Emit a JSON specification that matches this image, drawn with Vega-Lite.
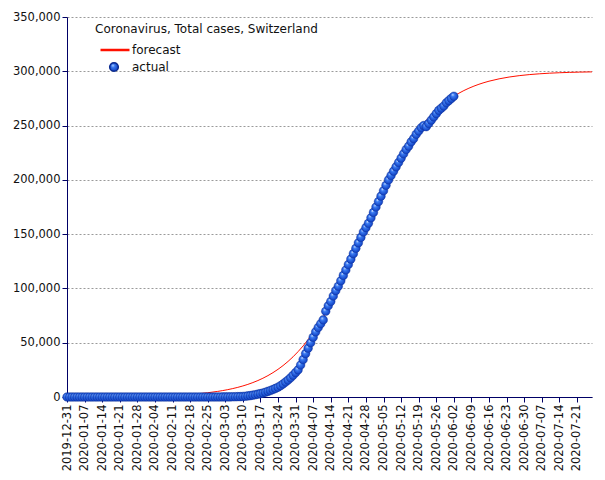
{
  "$schema": "https://vega.github.io/schema/vega-lite/v6.json",
  "autosize": {"type": "none"},
  "padding": {"left": 67, "top": 17, "right": 12, "bottom": 83},
  "width": 525,
  "height": 380,
  "background": "white",
  "config": {
    "view": {"stroke": null},
    "font": "DejaVu Sans",
    "axis": {
      "domainColor": "#000066",
      "tickColor": "#000066",
      "tickSize": 5,
      "labelColor": "#111111",
      "labelFontSize": 11.5,
      "labelPadding": 2,
      "title": null
    },
    "legend": {"padding": 0}
  },
  "datasets": {
    "forecast": [
      {"date": "2019-12-31", "cases": 81},
      {"date": "2020-01-04", "cases": 107},
      {"date": "2020-01-08", "cases": 141},
      {"date": "2020-01-12", "cases": 187},
      {"date": "2020-01-16", "cases": 246},
      {"date": "2020-01-20", "cases": 325},
      {"date": "2020-01-24", "cases": 430},
      {"date": "2020-01-28", "cases": 567},
      {"date": "2020-02-01", "cases": 749},
      {"date": "2020-02-05", "cases": 988},
      {"date": "2020-02-09", "cases": 1303},
      {"date": "2020-02-13", "cases": 1718},
      {"date": "2020-02-17", "cases": 2264},
      {"date": "2020-02-21", "cases": 2982},
      {"date": "2020-02-25", "cases": 3927},
      {"date": "2020-02-29", "cases": 5164},
      {"date": "2020-03-02", "cases": 5917},
      {"date": "2020-03-04", "cases": 6781},
      {"date": "2020-03-06", "cases": 7766},
      {"date": "2020-03-08", "cases": 8889},
      {"date": "2020-03-10", "cases": 10169},
      {"date": "2020-03-12", "cases": 11628},
      {"date": "2020-03-14", "cases": 13286},
      {"date": "2020-03-16", "cases": 15167},
      {"date": "2020-03-18", "cases": 17291},
      {"date": "2020-03-20", "cases": 19711},
      {"date": "2020-03-22", "cases": 22422},
      {"date": "2020-03-24", "cases": 25488},
      {"date": "2020-03-26", "cases": 28916},
      {"date": "2020-03-28", "cases": 32759},
      {"date": "2020-03-30", "cases": 37042},
      {"date": "2020-04-01", "cases": 41794},
      {"date": "2020-04-03", "cases": 47051},
      {"date": "2020-04-05", "cases": 52835},
      {"date": "2020-04-07", "cases": 59161},
      {"date": "2020-04-09", "cases": 66036},
      {"date": "2020-04-11", "cases": 73475},
      {"date": "2020-04-13", "cases": 81455},
      {"date": "2020-04-15", "cases": 89955},
      {"date": "2020-04-17", "cases": 98945},
      {"date": "2020-04-19", "cases": 108382},
      {"date": "2020-04-21", "cases": 118157},
      {"date": "2020-04-23", "cases": 128260},
      {"date": "2020-04-25", "cases": 138568},
      {"date": "2020-04-27", "cases": 148957},
      {"date": "2020-04-29", "cases": 159362},
      {"date": "2020-05-01", "cases": 169683},
      {"date": "2020-05-03", "cases": 179820},
      {"date": "2020-05-05", "cases": 189680},
      {"date": "2020-05-07", "cases": 199190},
      {"date": "2020-05-09", "cases": 208278},
      {"date": "2020-05-11", "cases": 216902},
      {"date": "2020-05-13", "cases": 224985},
      {"date": "2020-05-15", "cases": 232504},
      {"date": "2020-05-17", "cases": 239489},
      {"date": "2020-05-19", "cases": 245942},
      {"date": "2020-05-21", "cases": 251826},
      {"date": "2020-05-23", "cases": 257202},
      {"date": "2020-05-25", "cases": 262035},
      {"date": "2020-05-27", "cases": 266405},
      {"date": "2020-05-29", "cases": 270344},
      {"date": "2020-05-31", "cases": 273847},
      {"date": "2020-06-02", "cases": 276982},
      {"date": "2020-06-04", "cases": 279776},
      {"date": "2020-06-06", "cases": 282247},
      {"date": "2020-06-08", "cases": 284416},
      {"date": "2020-06-12", "cases": 288046},
      {"date": "2020-06-16", "cases": 290867},
      {"date": "2020-06-20", "cases": 293026},
      {"date": "2020-06-24", "cases": 294695},
      {"date": "2020-06-28", "cases": 295966},
      {"date": "2020-07-02", "cases": 296935},
      {"date": "2020-07-06", "cases": 297672},
      {"date": "2020-07-10", "cases": 298234},
      {"date": "2020-07-14", "cases": 298662},
      {"date": "2020-07-18", "cases": 298984},
      {"date": "2020-07-22", "cases": 299231},
      {"date": "2020-07-27", "cases": 299455}
    ],
    "actual": [
      {"date": "2019-12-31", "cases": 0},
      {"date": "2020-01-01", "cases": 0},
      {"date": "2020-01-02", "cases": 0},
      {"date": "2020-01-03", "cases": 0},
      {"date": "2020-01-04", "cases": 0},
      {"date": "2020-01-05", "cases": 0},
      {"date": "2020-01-06", "cases": 0},
      {"date": "2020-01-07", "cases": 0},
      {"date": "2020-01-08", "cases": 0},
      {"date": "2020-01-09", "cases": 0},
      {"date": "2020-01-10", "cases": 0},
      {"date": "2020-01-11", "cases": 0},
      {"date": "2020-01-12", "cases": 0},
      {"date": "2020-01-13", "cases": 0},
      {"date": "2020-01-14", "cases": 0},
      {"date": "2020-01-15", "cases": 0},
      {"date": "2020-01-16", "cases": 0},
      {"date": "2020-01-17", "cases": 0},
      {"date": "2020-01-18", "cases": 0},
      {"date": "2020-01-19", "cases": 0},
      {"date": "2020-01-20", "cases": 0},
      {"date": "2020-01-21", "cases": 0},
      {"date": "2020-01-22", "cases": 0},
      {"date": "2020-01-23", "cases": 0},
      {"date": "2020-01-24", "cases": 0},
      {"date": "2020-01-25", "cases": 0},
      {"date": "2020-01-26", "cases": 0},
      {"date": "2020-01-27", "cases": 0},
      {"date": "2020-01-28", "cases": 0},
      {"date": "2020-01-29", "cases": 0},
      {"date": "2020-01-30", "cases": 0},
      {"date": "2020-01-31", "cases": 0},
      {"date": "2020-02-01", "cases": 0},
      {"date": "2020-02-02", "cases": 0},
      {"date": "2020-02-03", "cases": 0},
      {"date": "2020-02-04", "cases": 0},
      {"date": "2020-02-05", "cases": 0},
      {"date": "2020-02-06", "cases": 0},
      {"date": "2020-02-07", "cases": 0},
      {"date": "2020-02-08", "cases": 0},
      {"date": "2020-02-09", "cases": 0},
      {"date": "2020-02-10", "cases": 0},
      {"date": "2020-02-11", "cases": 0},
      {"date": "2020-02-12", "cases": 0},
      {"date": "2020-02-13", "cases": 0},
      {"date": "2020-02-14", "cases": 0},
      {"date": "2020-02-15", "cases": 0},
      {"date": "2020-02-16", "cases": 0},
      {"date": "2020-02-17", "cases": 0},
      {"date": "2020-02-18", "cases": 0},
      {"date": "2020-02-19", "cases": 0},
      {"date": "2020-02-20", "cases": 0},
      {"date": "2020-02-21", "cases": 0},
      {"date": "2020-02-22", "cases": 0},
      {"date": "2020-02-23", "cases": 0},
      {"date": "2020-02-24", "cases": 0},
      {"date": "2020-02-25", "cases": 1},
      {"date": "2020-02-26", "cases": 1},
      {"date": "2020-02-27", "cases": 8},
      {"date": "2020-02-28", "cases": 15},
      {"date": "2020-02-29", "cases": 18},
      {"date": "2020-03-01", "cases": 27},
      {"date": "2020-03-02", "cases": 42},
      {"date": "2020-03-03", "cases": 56},
      {"date": "2020-03-04", "cases": 90},
      {"date": "2020-03-05", "cases": 114},
      {"date": "2020-03-06", "cases": 214},
      {"date": "2020-03-07", "cases": 268},
      {"date": "2020-03-08", "cases": 337},
      {"date": "2020-03-09", "cases": 374},
      {"date": "2020-03-10", "cases": 500},
      {"date": "2020-03-11", "cases": 700},
      {"date": "2020-03-12", "cases": 1000},
      {"date": "2020-03-13", "cases": 1300},
      {"date": "2020-03-14", "cases": 1700},
      {"date": "2020-03-15", "cases": 2100},
      {"date": "2020-03-16", "cases": 2600},
      {"date": "2020-03-17", "cases": 3100},
      {"date": "2020-03-18", "cases": 3700},
      {"date": "2020-03-19", "cases": 4400},
      {"date": "2020-03-20", "cases": 5200},
      {"date": "2020-03-21", "cases": 6000},
      {"date": "2020-03-22", "cases": 6900},
      {"date": "2020-03-23", "cases": 7900},
      {"date": "2020-03-24", "cases": 9000},
      {"date": "2020-03-25", "cases": 10400},
      {"date": "2020-03-26", "cases": 12000},
      {"date": "2020-03-27", "cases": 13800},
      {"date": "2020-03-28", "cases": 15600},
      {"date": "2020-03-29", "cases": 17700},
      {"date": "2020-03-30", "cases": 20000},
      {"date": "2020-03-31", "cases": 22500},
      {"date": "2020-04-01", "cases": 25000},
      {"date": "2020-04-02", "cases": 29500},
      {"date": "2020-04-03", "cases": 34500},
      {"date": "2020-04-04", "cases": 40000},
      {"date": "2020-04-05", "cases": 45000},
      {"date": "2020-04-06", "cases": 50000},
      {"date": "2020-04-07", "cases": 55000},
      {"date": "2020-04-08", "cases": 60000},
      {"date": "2020-04-09", "cases": 64000},
      {"date": "2020-04-10", "cases": 67500},
      {"date": "2020-04-11", "cases": 71000},
      {"date": "2020-04-12", "cases": 79000},
      {"date": "2020-04-13", "cases": 84000},
      {"date": "2020-04-14", "cases": 88000},
      {"date": "2020-04-15", "cases": 93000},
      {"date": "2020-04-16", "cases": 98000},
      {"date": "2020-04-17", "cases": 102000},
      {"date": "2020-04-18", "cases": 107000},
      {"date": "2020-04-19", "cases": 112000},
      {"date": "2020-04-20", "cases": 117000},
      {"date": "2020-04-21", "cases": 122000},
      {"date": "2020-04-22", "cases": 127000},
      {"date": "2020-04-23", "cases": 132000},
      {"date": "2020-04-24", "cases": 137000},
      {"date": "2020-04-25", "cases": 142000},
      {"date": "2020-04-26", "cases": 147000},
      {"date": "2020-04-27", "cases": 152000},
      {"date": "2020-04-28", "cases": 156000},
      {"date": "2020-04-29", "cases": 160000},
      {"date": "2020-04-30", "cases": 165000},
      {"date": "2020-05-01", "cases": 170000},
      {"date": "2020-05-02", "cases": 175000},
      {"date": "2020-05-03", "cases": 180000},
      {"date": "2020-05-04", "cases": 185000},
      {"date": "2020-05-05", "cases": 190000},
      {"date": "2020-05-06", "cases": 195000},
      {"date": "2020-05-07", "cases": 200000},
      {"date": "2020-05-08", "cases": 204000},
      {"date": "2020-05-09", "cases": 208000},
      {"date": "2020-05-10", "cases": 212000},
      {"date": "2020-05-11", "cases": 216000},
      {"date": "2020-05-12", "cases": 220000},
      {"date": "2020-05-13", "cases": 224000},
      {"date": "2020-05-14", "cases": 228000},
      {"date": "2020-05-15", "cases": 231000},
      {"date": "2020-05-16", "cases": 235000},
      {"date": "2020-05-17", "cases": 238000},
      {"date": "2020-05-18", "cases": 242000},
      {"date": "2020-05-19", "cases": 245000},
      {"date": "2020-05-20", "cases": 248000},
      {"date": "2020-05-21", "cases": 250000},
      {"date": "2020-05-22", "cases": 249000},
      {"date": "2020-05-23", "cases": 252000},
      {"date": "2020-05-24", "cases": 255000},
      {"date": "2020-05-25", "cases": 258000},
      {"date": "2020-05-26", "cases": 261000},
      {"date": "2020-05-27", "cases": 264000},
      {"date": "2020-05-28", "cases": 266000},
      {"date": "2020-05-29", "cases": 268000},
      {"date": "2020-05-30", "cases": 271000},
      {"date": "2020-05-31", "cases": 273000},
      {"date": "2020-06-01", "cases": 275000},
      {"date": "2020-06-02", "cases": 277000}
    ]
  },
  "encoding": {
    "x": {
      "field": "date",
      "type": "temporal",
      "scale": {
        "type": "utc",
        "domain": [
          {"year": 2019, "month": 12, "date": 31, "utc": true},
          {"year": 2020, "month": 7, "date": 27, "utc": true}
        ]
      },
      "axis": {
        "grid": false,
        "labelExpr": "utcFormat(datum.value, '%Y-%m-%d')",
        "labelAngle": 270,
        "labelOverlap": false,
        "values": [
          {"year": 2019, "month": 12, "date": 31, "utc": true},
          {"year": 2020, "month": 1, "date": 7, "utc": true},
          {"year": 2020, "month": 1, "date": 14, "utc": true},
          {"year": 2020, "month": 1, "date": 21, "utc": true},
          {"year": 2020, "month": 1, "date": 28, "utc": true},
          {"year": 2020, "month": 2, "date": 4, "utc": true},
          {"year": 2020, "month": 2, "date": 11, "utc": true},
          {"year": 2020, "month": 2, "date": 18, "utc": true},
          {"year": 2020, "month": 2, "date": 25, "utc": true},
          {"year": 2020, "month": 3, "date": 3, "utc": true},
          {"year": 2020, "month": 3, "date": 10, "utc": true},
          {"year": 2020, "month": 3, "date": 17, "utc": true},
          {"year": 2020, "month": 3, "date": 24, "utc": true},
          {"year": 2020, "month": 3, "date": 31, "utc": true},
          {"year": 2020, "month": 4, "date": 7, "utc": true},
          {"year": 2020, "month": 4, "date": 14, "utc": true},
          {"year": 2020, "month": 4, "date": 21, "utc": true},
          {"year": 2020, "month": 4, "date": 28, "utc": true},
          {"year": 2020, "month": 5, "date": 5, "utc": true},
          {"year": 2020, "month": 5, "date": 12, "utc": true},
          {"year": 2020, "month": 5, "date": 19, "utc": true},
          {"year": 2020, "month": 5, "date": 26, "utc": true},
          {"year": 2020, "month": 6, "date": 2, "utc": true},
          {"year": 2020, "month": 6, "date": 9, "utc": true},
          {"year": 2020, "month": 6, "date": 16, "utc": true},
          {"year": 2020, "month": 6, "date": 23, "utc": true},
          {"year": 2020, "month": 6, "date": 30, "utc": true},
          {"year": 2020, "month": 7, "date": 7, "utc": true},
          {"year": 2020, "month": 7, "date": 14, "utc": true},
          {"year": 2020, "month": 7, "date": 21, "utc": true}
        ]
      }
    },
    "y": {
      "field": "cases",
      "type": "quantitative",
      "scale": {"domain": [0, 350000], "nice": false},
      "axis": {
        "values": [0, 50000, 100000, 150000, 200000, 250000, 300000, 350000],
        "labelExpr": "format(datum.value, ',')",
        "grid": true,
        "gridColor": "#9a9a9a",
        "gridDash": [2, 2],
        "gridWidth": 1
      }
    }
  },
  "layer": [
    {
      "data": {"name": "forecast"},
      "mark": {"type": "line", "strokeWidth": 1, "interpolate": "monotone"},
      "encoding": {
        "color": {
          "datum": "forecast",
          "scale": {"range": ["#ff1000"]},
          "legend": {
            "title": "Coronavirus, Total cases, Switzerland",
            "orient": "none",
            "legendX": 28,
            "legendY": 7,
            "titleFontSize": 12,
            "titleFontWeight": "normal",
            "titleColor": "#111111",
            "titleLimit": 500,
            "titlePadding": -2,
            "labelFontSize": 12,
            "labelColor": "#111111",
            "symbolType": "stroke",
            "symbolSize": 841,
            "symbolStrokeWidth": 2.5,
            "symbolOffset": 4,
            "labelOffset": 1,
            "encode": {"symbols": {"update": {"stroke": {"value": "#ff5a1f"}}}}
          }
        }
      }
    },
    {
      "data": {"name": "actual"},
      "mark": {
        "type": "point",
        "filled": true,
        "size": 75,
        "opacity": 1,
        "fill": {
          "gradient": "radial",
          "x1": 0.35, "y1": 0.3, "r1": 0,
          "x2": 0.5, "y2": 0.5, "r2": 0.55,
          "stops": [
            {"offset": 0, "color": "#eef4ff"},
            {"offset": 0.3, "color": "#3d7ff5"},
            {"offset": 1, "color": "#0a36b8"}
          ]
        },
        "stroke": "#0a2a90",
        "strokeWidth": 0.4
      },
      "encoding": {
        "shape": {
          "datum": "actual",
          "scale": {"range": ["circle"]},
          "legend": {
            "title": null,
            "orient": "none",
            "legendX": 41,
            "legendY": 44,
            "labelFontSize": 12,
            "labelColor": "#111111",
            "labelOffset": 12,
            "symbolSize": 75,
            "encode": {
              "symbols": {
                "update": {
                  "fill": {"value": {
                    "gradient": "radial",
                    "x1": 0.35, "y1": 0.3, "r1": 0,
                    "x2": 0.5, "y2": 0.5, "r2": 0.55,
                    "stops": [
                      {"offset": 0, "color": "#eef4ff"},
                      {"offset": 0.3, "color": "#3d7ff5"},
                      {"offset": 1, "color": "#0a36b8"}
                    ]
                  }},
                  "stroke": {"value": "#0a2a90"},
                  "strokeWidth": {"value": 0.4},
                  "opacity": {"value": 1}
                }
              }
            }
          }
        }
      }
    }
  ]
}
